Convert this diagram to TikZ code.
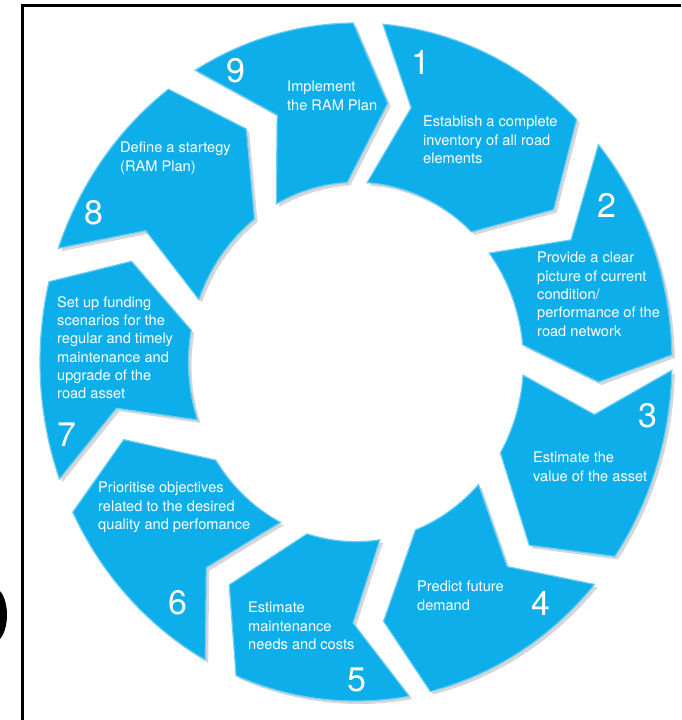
\documentclass[tikz,border=0pt]{standalone}
\usepackage{fontspec}
\setmainfont{TeX Gyre Heros}
\definecolor{ramblue}{RGB}{14,174,234}
\definecolor{ramglow}{RGB}{105,205,244}
\tikzset{
  steptext/.style={text=white,font=\fontsize{14.6}{18.3}\selectfont,align=left,anchor=north west,inner sep=0pt},
  stepnum/.style={text=white,font=\fontsize{34}{34}\selectfont,inner sep=0pt},
}

\begin{document}
\begin{tikzpicture}[x=1pt,y=-1pt]
  \useasboundingbox (0,0) rectangle (681,720);
  \fill[white] (0,0) rectangle (681,720);
  % nine chevron segments, clockwise
  \begin{scope}[shift={(356,362)},x=316pt,y=339pt]
    \foreach \so/\si/\sn/\eo/\ei/\et in {85.1/86.2/76.9/45.7/46.4/35.7, 39.9/37.3/27.9/1.2/5.5/-4.4,
        -1.4/-4.2/-11.6/-35/-30.4/-44.6, -41/-43/-51.6/-76.4/-69.2/-83.5,
        -80.3/-81.8/-90.7/-112.3/-107/-121.4, -118.5/-116.8/-128/-153.7/-146.9/-162.7,
        -159.8/-161.2/-169.8/-193.7/-190.2/-202.7, -199.6/-200.3/-210.2/-233.6/-232.7/-243.2,
        -239.4/-241.6/-251.1/-269.5/-267/-277.5}{
      \fill[black,opacity=0.16,xshift=3pt,yshift=-3pt] (\so:1) arc[start angle=\so,end angle=\eo,x radius=316pt,y radius=339pt]
        -- (\et:0.77) -- (\ei:0.53) arc[start angle=\ei,end angle=\si,x radius=167.5pt,y radius=179.7pt]
        -- (\sn:0.77) -- cycle;
      \fill[ramblue,draw=ramglow,line width=1.2pt] (\so:1) arc[start angle=\so,end angle=\eo,x radius=316pt,y radius=339pt]
        -- (\et:0.77) -- (\ei:0.53) arc[start angle=\ei,end angle=\si,x radius=167.5pt,y radius=179.7pt]
        -- (\sn:0.77) -- cycle;
    }
  \end{scope}

  \node[stepnum] (n1) at (421,62) {1};
  \node[stepnum] (n2) at (607,205) {2};
  \node[stepnum] (n3) at (648,416) {3};
  \node[stepnum] (n4) at (541,603) {4};
  \node[stepnum] (n5) at (357,680) {5};
  \node[stepnum] (n6) at (178,603) {6};
  \node[stepnum] (n7) at (67,435) {7};
  \node[stepnum] (n8) at (94,213) {8};
  \node[stepnum] (n9) at (236,71) {9};

  \node[steptext] (t1) at (423,116) {Establish a complete\\inventory of all road\\elements};
  \node[steptext] (t2) at (537,252) {Provide a clear\\picture of current\\condition/\\performance of the\\road network};
  \node[steptext] (t3) at (533,452) {Estimate the\\value of the asset};
  \node[steptext] (t4) at (417,581) {Predict future\\demand};
  \node[steptext] (t5) at (248,602) {Estimate\\maintenance\\needs and costs};
  \node[steptext] (t6) at (98,482) {Prioritise objectives\\related to the desired\\quality and perfomance};
  \node[steptext] (t7) at (57,296) {Set up funding\\scenarios for the\\regular and timely\\maintenance and\\upgrade of the\\road asset};
  \node[steptext] (t8) at (120,142) {Define a startegy\\(RAM Plan)};
  \node[steptext] (t9) at (287,81) {Implement\\the RAM Plan};

  % frame and the cut-off mark at the left
  \draw[line width=3.5pt] (22.5,720) -- (22.5,5.5) -- (681,5.5);
  \fill (-6,615) ellipse[x radius=13pt,y radius=27pt];
\end{tikzpicture}
\end{document}
